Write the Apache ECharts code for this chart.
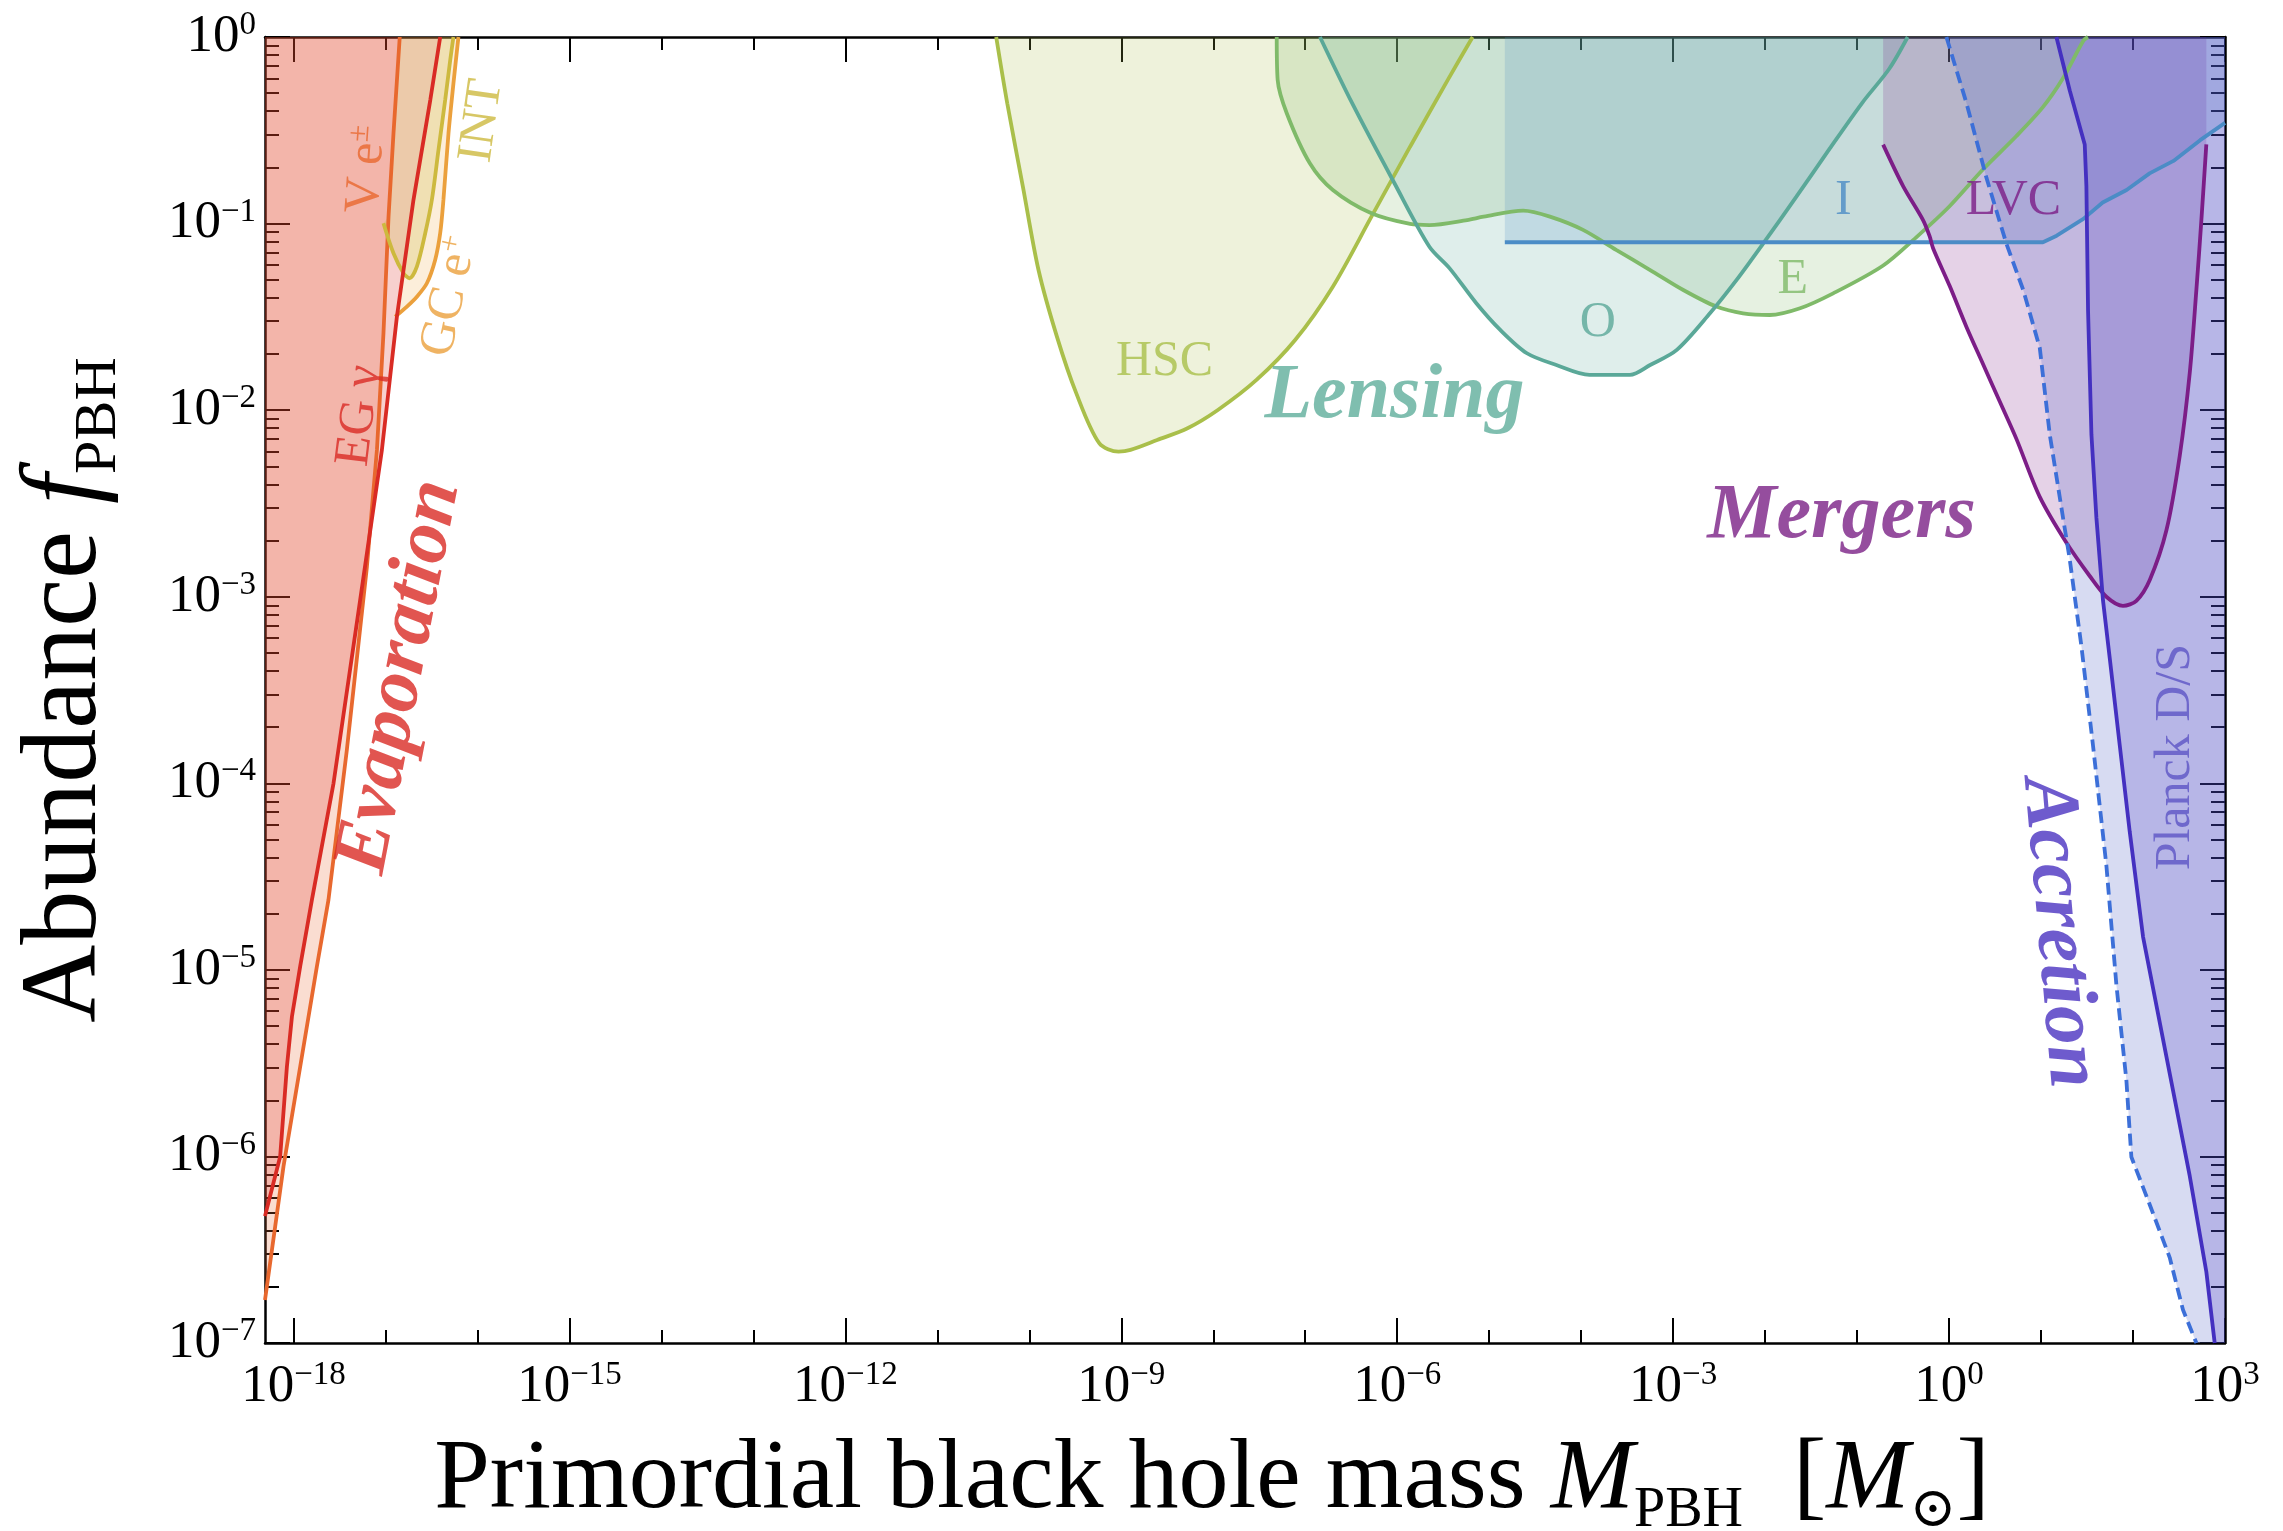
<!DOCTYPE html>
<html><head><meta charset="utf-8">
<script src="https://cdn.jsdelivr.net/npm/echarts@6/dist/echarts.min.js"></script>
<style>html,body{margin:0;padding:0;background:#fff}#c{width:2283px;height:1531px}</style>
</head><body><div id="c"></div>
<script>
// All values are [log10(M_PBH / M_sun), log10(f_PBH)].
const xMajorTicks = [-18,-15,-12,-9,-6,-3,0,3];
const xDecadeTicks = [-18,-17,-16,-15,-14,-13,-12,-11,-10,-9,-8,-7,-6,-5,-4,-3,-2,-1,0,1,2,3];
const yMajorTicks = [-7,-6,-5,-4,-3,-2,-1,0];
const yMinorFactors = [2,3,4,5,6,7,8,9];

const evapEG = [[-18.31,-6.32],[-18.145,-6.0],[-18.072,-5.52],[-18.017,-5.25],[-17.927,-4.98],[-17.80,-4.625],[-17.565,-4.0],[-17.275,-3.017],[-17.039,-2.213],[-16.876,-1.499],[-16.696,-0.874],[-16.513,-0.338],[-16.405,0]];
const evapVe = [[-18.31,-6.77],[-18.109,-6.054],[-17.927,-5.518],[-17.746,-4.982],[-17.62,-4.625],[-17.42,-3.821],[-17.202,-2.839],[-17.093,-2.213],[-17.022,-1.588],[-16.967,-0.963],[-16.913,-0.516],[-16.845,0]];
const evapGC = [[-16.895,-1.499],[-16.767,-1.445],[-16.659,-1.392],[-16.55,-1.32],[-16.46,-1.195],[-16.405,-1.051],[-16.37,-0.873],[-16.315,-0.516],[-16.261,-0.248],[-16.207,0]];
const evapINT = [[-17.022,-0.998],[-16.913,-1.159],[-16.804,-1.266],[-16.739,-1.293],[-16.659,-1.231],[-16.568,-1.052],[-16.496,-0.874],[-16.424,-0.606],[-16.351,-0.338],[-16.296,-0.123],[-16.261,0]];
const lensHSC = [[-10.36,0],[-10.24,-0.355],[-10.07,-0.802],[-9.90,-1.249],[-9.70,-1.606],[-9.49,-1.909],[-9.24,-2.177],[-9.03,-2.222],[-8.90,-2.213],[-8.61,-2.16],[-8.28,-2.097],[-7.95,-1.999],[-7.53,-1.838],[-7.11,-1.624],[-6.70,-1.338],[-6.28,-0.963],[-5.86,-0.588],[-5.45,-0.23],[-5.18,0]];
const lensE = [[-7.31,0],[-7.30,-0.23],[-7.20,-0.41],[-6.95,-0.677],[-6.70,-0.82],[-6.28,-0.945],[-5.86,-1.002],[-5.65,-1.008],[-5.24,-0.981],[-5.06,-0.963],[-4.63,-0.931],[-4.34,-0.963],[-3.98,-1.034],[-3.62,-1.141],[-3.25,-1.249],[-2.89,-1.356],[-2.53,-1.445],[-2.24,-1.481],[-1.95,-1.49],[-1.62,-1.454],[-1.26,-1.374],[-0.72,-1.226],[-0.36,-1.075],[0.0,-0.91],[0.37,-0.709],[0.73,-0.532],[1.02,-0.376],[1.24,-0.22],[1.46,-0.02],[1.51,0]];
const lensO = [[-6.84,0],[-6.49,-0.355],[-6.03,-0.784],[-5.65,-1.124],[-5.43,-1.24],[-5.14,-1.427],[-4.88,-1.57],[-4.59,-1.695],[-4.27,-1.758],[-3.91,-1.811],[-3.47,-1.811],[-3.25,-1.758],[-2.96,-1.677],[-2.60,-1.481],[-2.31,-1.302],[-2.02,-1.106],[-1.66,-0.856],[-1.30,-0.6],[-0.94,-0.35],[-0.65,-0.17],[-0.45,0]];
const lensI = [[-4.83,-1.1],[1.02,-1.1],[1.17,-1.065],[1.46,-0.975],[1.67,-0.887],[1.93,-0.82],[2.18,-0.731],[2.44,-0.664],[2.73,-0.553],[3.0,-0.46]];
const mergLVC = [[-0.717,-0.577],[-0.5,-0.799],[-0.283,-0.981],[-0.21,-1.07],[-0.174,-1.132],[0.007,-1.335],[0.189,-1.554],[0.37,-1.754],[0.551,-1.954],[0.732,-2.154],[0.986,-2.465],[1.276,-2.711],[1.529,-2.889],[1.71,-3.0],[1.891,-3.049],[2.036,-3.022],[2.182,-2.91],[2.363,-2.644],[2.508,-2.244],[2.617,-1.799],[2.689,-1.354],[2.744,-0.975],[2.797,-0.576]];
const accDashed = [[-0.029,0],[0.189,-0.354],[0.406,-0.754],[0.624,-1.109],[0.805,-1.354],[0.986,-1.666],[1.095,-2.132],[1.239,-2.577],[1.312,-2.8],[1.44,-3.27],[1.565,-3.798],[1.71,-4.439],[1.819,-5.08],[1.928,-5.593],[1.982,-6.003],[2.182,-6.259],[2.399,-6.542],[2.543,-6.822],[2.689,-7.0]];
const accPlanck = [[1.167,0],[1.312,-0.287],[1.475,-0.576],[1.493,-0.799],[1.511,-1.466],[1.548,-2.133],[1.602,-2.578],[1.674,-3.022],[1.747,-3.33],[1.856,-3.798],[1.964,-4.259],[2.109,-4.823],[2.363,-5.465],[2.617,-6.106],[2.797,-6.618],[2.888,-7.0]];

const labelText = ['Evaporation','EG γ','V e{sp|±}','GC e{sp|+}','INT','HSC','Lensing','O','E','I','LVC','Mergers','Accretion','Planck D/S'];
const labelAt = [[-16.84,-3.43],[-17.28,-2.03],[-17.20,-0.71],[-16.30,-1.39],[-15.95,-0.45],[-8.53,-1.74],[-6.03,-1.93],[-3.82,-1.53],[-1.70,-1.30],[-1.15,-0.88],[0.70,-0.876],[-1.17,-2.57],[1.19,-4.80],[2.47,-3.86]];

const XMIN=-18.31, XMAX=3, YMIN=-7, YMAX=0;
const FONT = "'Liberation Serif','DejaVu Serif',serif";
const C = {red:'#d92b24', ve:'#e8682e', gc:'#eba03c', int:'#cdb93e', hsc:'#a9bf4a', e:'#7fba69', o:'#5aa898', i:'#4b8cc6', lvc:'#7c1d87', dash:'#3c6fd8', planck:'#4430c0'};
const labelColor = [C.red,C.red,C.ve,C.gc,C.int,C.hsc,'#5fae9b',C.o,C.e,C.i,C.lvc,'#7b2086','#4a32c0','#5d55c5'];
const labelRot = [79,83,86,78,82,0,0,0,0,0,0,0,-85,90];
const labelBig = [true,false,false,false,false,false,true,false,false,false,false,true,true,false];

const yMinorTicks = [];
yMajorTicks.slice(0,-1).forEach(d => yMinorFactors.forEach(k => yMinorTicks.push(d + Math.log10(k))));

function supLabel(v){ v = Math.round(v); const s = v < 0 ? '\u2212' + (-v) : String(v); return '{b|10}{s|' + s + '}'; }
const tickRich = {
  b:{fontFamily:FONT, fontSize:53, lineHeight:56, color:'#000'},
  s:{fontFamily:FONT, fontSize:33, lineHeight:32, verticalAlign:'top', color:'#000'}
};
function titleRich(sz){ return {
  t:{fontFamily:FONT, fontSize:sz, lineHeight:sz+16, color:'#000'},
  i:{fontFamily:FONT, fontSize:sz, lineHeight:sz+16, fontStyle:'italic', color:'#000'},
  sub:{fontFamily:FONT, fontSize:Math.round(sz*0.56), lineHeight:Math.round(sz*0.62), verticalAlign:'bottom', color:'#000'}
};}

function xAx(pos, ticks, len, withLabels, withLine, name){
  const a = {type:'value', position:pos, min:XMIN, max:XMAX, offset:0,
    axisLine:{show:withLine, onZero:false, lineStyle:{color:'#000', width:2.5}},
    axisTick:{show:true, inside:true, length:len, customValues:ticks, lineStyle:{color:'#000', width:2}},
    axisLabel: withLabels ? {show:true, customValues:xMajorTicks, formatter:supLabel, margin:16, rich:tickRich} : {show:false},
    splitLine:{show:false}};
  if (name) { a.name = name; a.nameLocation = 'middle'; a.nameGap = 80; a.nameTextStyle = {rich:titleRich(100), padding:[0,66,0,0]}; }
  return a;
}
function yAx(pos, ticks, len, withLabels, withLine, name){
  const a = {type:'value', position:pos, min:YMIN, max:YMAX, offset:0,
    axisLine:{show:withLine, onZero:false, lineStyle:{color:'#000', width:2.5}},
    axisTick:{show:true, inside:true, length:len, customValues:ticks, lineStyle:{color:'#000', width:2}},
    axisLabel: withLabels ? {show:true, customValues:yMajorTicks, formatter:supLabel, margin:9, rich:tickRich} : {show:false},
    splitLine:{show:false}};
  if (name) { a.name = name; a.nameLocation = 'middle'; a.nameRotate = 90; a.nameGap = 136; a.nameTextStyle = {rich:titleRich(108)}; }
  return a;
}

function fill(pts, color){
  return {type:'custom', xAxisIndex:0, yAxisIndex:0, data:[[-5,-3]], z:1, silent:true, clip:true,
    renderItem:(params, api) => ({type:'polygon', shape:{points: pts.map(p => api.coord(p))}, style:{fill:color}})};
}
// area from a curve up to the top of the axis (f = 1), with the same smoothing as its line
function areaTop(pts, color, smooth){
  return {type:'line', xAxisIndex:0, yAxisIndex:0, data:pts, showSymbol:false, symbol:'none', z:1, silent:true, smooth:smooth,
    lineStyle:{width:0, opacity:0}, areaStyle:{origin:'end', color:color, opacity:1}};
}
function line(pts, color, dashed, smooth){
  return {type:'line', xAxisIndex:0, yAxisIndex:0, data:pts, showSymbol:false, symbol:'none', z:3, silent:true, smooth:smooth || false,
    lineStyle:{color:color, width:3.8, type: dashed ? [12,6] : 'solid'}};
}

const SM = 0.3;
const fills = [
  fill(evapVe.concat([[XMIN,YMAX]]), 'rgba(235,110,55,0.23)'),
  fill(evapEG.concat([[XMIN,YMAX]]), 'rgba(220,40,30,0.22)'),
  fill(evapGC.concat(evapEG.filter(p => p[1] > -1.5).reverse()), 'rgba(240,170,70,0.2)'),
  fill(evapINT.concat(evapVe.filter(p => p[1] > -1.0).reverse()), 'rgba(205,185,62,0.25)'),
  areaTop(lensHSC, 'rgba(169,191,74,0.2)', SM),
  areaTop(lensE, 'rgba(128,187,106,0.2)', SM),
  areaTop(lensO, 'rgba(95,169,154,0.2)', SM),
  areaTop(lensI, 'rgba(74,138,196,0.2)', false),
  areaTop(mergLVC, 'rgba(124,29,135,0.2)', SM),
  fill(accDashed.concat([[XMAX,YMIN],[XMAX,YMAX]]), 'rgba(80,100,200,0.23)'),
  fill(accPlanck.concat([[XMAX,YMIN],[XMAX,YMAX]]), 'rgba(64,48,192,0.21)')
];
const lines = [
  line(evapVe, C.ve), line(evapINT, C.int, false, SM), line(evapGC, C.gc, false, SM), line(evapEG, C.red),
  line(lensHSC, C.hsc, false, SM), line(lensE, C.e, false, SM), line(lensO, C.o, false, SM), line(lensI, C.i),
  line(mergLVC, C.lvc, false, SM), line(accDashed, C.dash, true), line(accPlanck, C.planck)
];

const labelData = labelText.map((t, k) => {
  const big = labelBig[k];
  const col = labelColor[k];
  return {value: labelAt[k], label:{show:true, position:'inside', formatter:t, rotate:labelRot[k],
    fontFamily:FONT, fontSize: big ? 78 : 50, color:col, fontStyle: big ? 'italic' : 'normal', fontWeight: big ? 'bold' : 'normal',
    rich:{sp:{fontFamily:FONT, fontSize:31, color:col, verticalAlign:'top', lineHeight:30}}}};
});
const labels = {type:'scatter', xAxisIndex:0, yAxisIndex:0, symbolSize:1, itemStyle:{color:'rgba(0,0,0,0)'}, z:5, silent:true, data:labelData};

const chart = echarts.init(document.getElementById('c'), null, {renderer:'canvas'});
chart.setOption({
  animation:false,
  backgroundColor:'#fff',
  grid:{left:265, right:58, top:37, bottom:188, containLabel:false, outerBoundsMode:'none'},
  xAxis:[
    xAx('bottom', xMajorTicks, 25, true, true, '{t|Primordial black hole mass }{i|M}{sub|PBH}{t|  [}{i|M}{sub|\u2299}{t|]}'),
    xAx('bottom', xDecadeTicks, 13, false, false),
    xAx('top', xMajorTicks, 25, false, true),
    xAx('top', xDecadeTicks, 13, false, false)
  ],
  yAxis:[
    yAx('left', yMajorTicks, 25, true, true, '{t|Abundance }{i|f}{sub|PBH}'),
    yAx('left', yMinorTicks, 14, false, false),
    yAx('right', yMajorTicks, 25, false, true),
    yAx('right', yMinorTicks, 14, false, false)
  ],
  series: fills.concat(lines).concat([labels])
});
</script></body></html>
